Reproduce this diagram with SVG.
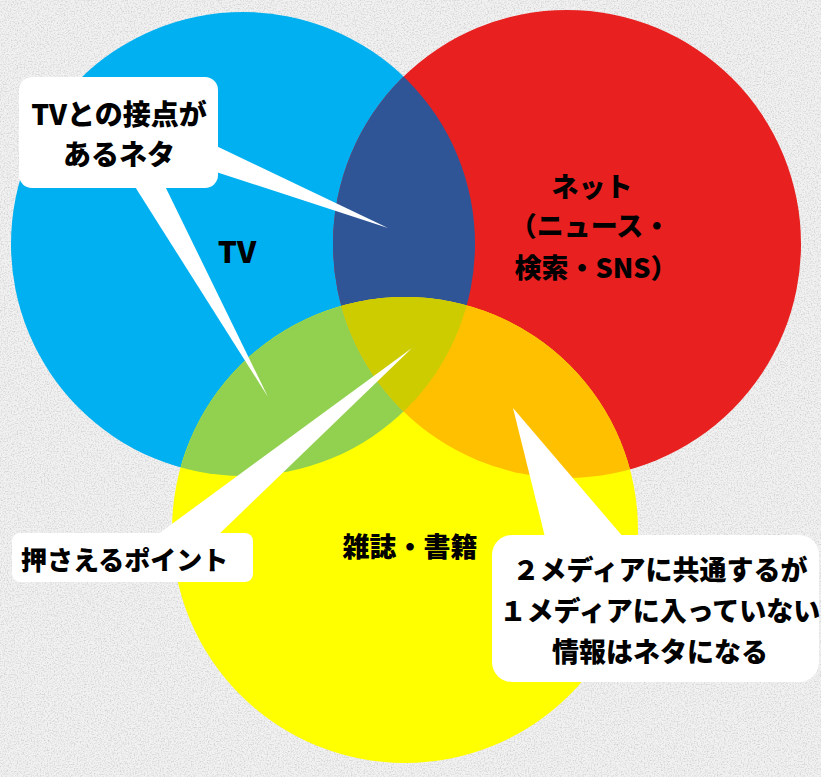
<svg xmlns="http://www.w3.org/2000/svg" width="821" height="777" viewBox="0 0 821 777">
  <style>
    .lbl { font-family: "Noto Sans CJK JP", "Noto Sans", "Liberation Sans", sans-serif; font-weight: 900; fill: #000; }
    .box { fill: #ffffff; }
    .tail { fill: #ffffff; }
  </style>
  <defs>
    <filter id="grain" x="0" y="0" width="100%" height="100%">
      <feTurbulence type="fractalNoise" baseFrequency="0.7" numOctaves="2" seed="5" result="n"/>
      <feColorMatrix in="n" type="matrix" values="0 0 0 0 0  0 0 0 0 0  0 0 0 0 0  -2.6 0 0 0 1.45"/>
    </filter>
    <clipPath id="cpBlue"><circle cx="243" cy="244" r="232"/></clipPath>
    <clipPath id="cpRed"><circle cx="567" cy="244" r="234"/></clipPath>
  </defs>

  <rect x="0" y="0" width="821" height="777" fill="#F1F1F1"/>
  <rect x="0" y="0" width="821" height="777" fill="#000" filter="url(#grain)" opacity="0.12"/>

  <g id="circle-tv">
    <circle cx="243" cy="244" r="232" fill="#00B0F0"/>
  </g>
  <g id="circle-net">
    <circle cx="567" cy="244" r="234" fill="#E82020"/>
  </g>
  <g id="circle-magazine">
    <circle cx="405" cy="530" r="233" fill="#FFFF00"/>
  </g>
  <g id="overlaps">
    <circle cx="567" cy="244" r="234" fill="#2F5597" clip-path="url(#cpBlue)"/>
    <circle cx="405" cy="530" r="233" fill="#92D050" clip-path="url(#cpBlue)"/>
    <circle cx="405" cy="530" r="233" fill="#FFC000" clip-path="url(#cpRed)"/>
    <g clip-path="url(#cpBlue)">
      <circle cx="405" cy="530" r="233" fill="#CDCC00" clip-path="url(#cpRed)"/>
    </g>
  </g>

  <g id="label-tv">
    <text class="lbl" x="237" y="263" font-size="30" text-anchor="middle">TV</text>
  </g>
  <g id="label-net">
    <text class="lbl" x="592" y="197" font-size="27" text-anchor="middle">ネット</text>
    <text class="lbl" x="590" y="236" font-size="27" text-anchor="middle">（ニュース・</text>
    <text class="lbl" x="596" y="278" font-size="27" text-anchor="middle">検索・SNS）</text>
  </g>
  <g id="label-magazine">
    <text class="lbl" x="410" y="557" font-size="27" text-anchor="middle">雑誌・書籍</text>
  </g>

  <g id="connectors">
    <polygon class="tail" points="210,143 388,228 210,170"/>
    <polygon class="tail" points="132,182 268,397 163,182"/>
    <polygon class="tail" points="150,540 412,348 213,540"/>
    <polygon class="tail" points="547,545 513,408 630,545"/>
  </g>

  <g id="callout-tv">
    <rect class="box" x="19" y="77" width="199" height="111" rx="13"/>
    <text class="lbl" x="119" y="125" font-size="28" text-anchor="middle">TVとの接点が</text>
    <text class="lbl" x="119" y="165" font-size="28" text-anchor="middle">あるネタ</text>
  </g>
  <g id="callout-point">
    <rect class="box" x="12" y="533" width="241" height="49" rx="8"/>
    <text class="lbl" x="21" y="570" font-size="26">押さえるポイント</text>
  </g>
  <g id="callout-common">
    <rect class="box" x="492" y="535" width="327" height="147" rx="20"/>
    <text class="lbl" x="660" y="580" font-size="27" text-anchor="middle">２メディアに共通するが</text>
    <text class="lbl" x="660" y="621" font-size="27" text-anchor="middle">１メディアに入っていない</text>
    <text class="lbl" x="660" y="662" font-size="27" text-anchor="middle">情報はネタになる</text>
  </g>
</svg>
